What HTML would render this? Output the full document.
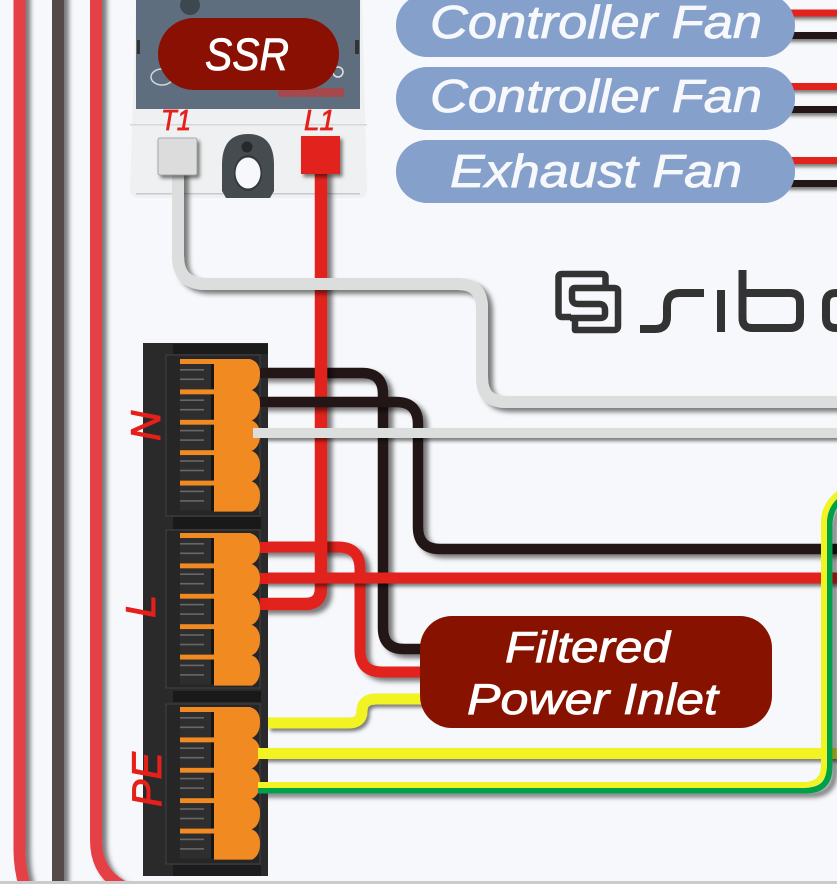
<!DOCTYPE html>
<html><head><meta charset="utf-8"><style>
html,body{margin:0;padding:0;background:#f7f8fb}
svg{display:block}
text{font-family:"Liberation Sans",sans-serif;font-style:italic}
</style></head><body>
<svg xmlns="http://www.w3.org/2000/svg" width="837" height="884" viewBox="0 0 837 884">
<defs>
<filter id="s" x="-20" y="-20" width="900" height="930" filterUnits="userSpaceOnUse"><feDropShadow dx="5" dy="4" stdDeviation="2.4" flood-color="#000" flood-opacity=".5"/></filter>
<filter id="s2" x="-20" y="-20" width="900" height="930" filterUnits="userSpaceOnUse"><feDropShadow dx="2.5" dy="3" stdDeviation="1.8" flood-color="#000" flood-opacity=".5"/></filter>
<g id="u">
<rect x="180" y="0" width="34" height="5" fill="#f28a22"/>
<rect x="180" y="5" width="32" height="25" fill="#2e2e2f"/>
<rect x="211" y="5" width="3" height="25" fill="#161616"/>
<rect x="180" y="10" width="24" height="1.6" fill="#686868"/>
<rect x="180" y="19.500" width="24" height="1.6" fill="#686868"/>
<path d="M214 0H250Q260 3 260 15Q260 27 252 31H214Z" fill="#f28a22"/>
</g>
<g id="sec">
<use href="#u"/><use href="#u" y="30.4"/><use href="#u" y="60.8"/><use href="#u" y="91.2"/><use href="#u" y="121.6"/>
</g>
</defs>
<rect width="837" height="884" fill="#f7f8fb"/>

<!-- left wires -->
<g fill="none" stroke-width="12" filter="url(#s)">
<path d="M19.500 -10V850Q19.500 870 26 890" stroke="#e63f46"/>
<path d="M58 -10V890" stroke="#54494a"/>
<path d="M96 -10V840Q96 872 122 886" stroke="#e63f46"/>
</g>

<!-- SSR device -->
<path d="M136 0H362L367 190Q367 198 358 198H140Q130 198 130 190Z" fill="#eff0f1"/>
<rect x="130" y="124" width="237" height="1.500" fill="#d5d8dc"/>
<rect x="136" y="193" width="224" height="1.500" fill="#c4cad0"/>
<rect x="136" y="0" width="224" height="109" fill="#5e6e7e"/>
<circle cx="190" cy="5" r="10" fill="#3e4650"/>
<ellipse cx="162" cy="77" rx="11" ry="8" fill="none" stroke="#cfd6dd" stroke-width="1.500"/>
<rect x="278" y="88" width="66" height="9" fill="#a5494f"/>
<rect x="137" y="40" width="3" height="14" fill="#333"/>
<rect x="355" y="40" width="4" height="14" fill="#333"/>
<circle cx="338" cy="72" r="5" fill="none" stroke="#dfe3e6" stroke-width="1.500"/>
<rect x="158" y="18" width="181" height="72" rx="36" fill="#8a1003"/>
<text x="205" y="70" font-size="45" fill="#fff" stroke="#fff" stroke-width=".8" textLength="84" lengthAdjust="spacingAndGlyphs">SSR</text>
<text x="161" y="130" font-size="29" fill="#e5201a" stroke="#e5201a" stroke-width=".7" textLength="30" lengthAdjust="spacingAndGlyphs">T1</text>
<text x="304" y="130" font-size="29" fill="#e5201a" stroke="#e5201a" stroke-width=".7" textLength="31" lengthAdjust="spacingAndGlyphs">L1</text>
<path d="M222 165Q222 134 248 134Q274 134 274 165V191L270 198H226L222 191Z" fill="#464b50"/>
<circle cx="247" cy="147" r="5.500" fill="#26282a"/>
<ellipse cx="248" cy="173" rx="14" ry="18" fill="#33373a"/>
<ellipse cx="248" cy="173" rx="12.500" ry="15.500" fill="#f7f8fb"/>

<g fill="none" stroke-linejoin="round">
<path d="M258 373H362Q383 373 383 394V628Q383 649 404 649H425" stroke="#241715" stroke-width="10.500" filter="url(#s)"/>
<path d="M258 547H338Q360 547 360 569V650Q360 672 382 672H425" stroke="#e2201a" stroke-width="11" filter="url(#s)"/>
<path d="M321 170V588Q321 604 305 604H258" stroke="#e2201a" stroke-width="12.500" filter="url(#s)"/>
<path d="M258 402H396Q418 402 418 424V527Q418 549 440 549H845" stroke="#241715" stroke-width="10.500" filter="url(#s)"/>
<path d="M178 170V256Q178 284 206 284H458Q482 284 482 308V378Q482 402 506 402H845" stroke="#dcdddd" stroke-width="12" filter="url(#s)"/>
<path d="M253 433H845" stroke="#dcdddd" stroke-width="10" filter="url(#s2)"/>
<path d="M258 578H845" stroke="#e2201a" stroke-width="11" filter="url(#s2)"/>
<path d="M268 723H348Q362 723 362 711Q362 699 376 699H425" stroke="#f1f322" stroke-width="11" filter="url(#s2)"/>
<path d="M258 753.500H845" stroke="#f1f322" stroke-width="11" filter="url(#s2)"/>
<path d="M258 790.500H806Q829.500 790.500 829.500 767V526Q829.500 506 845 495" stroke="#05a04a" stroke-width="6" filter="url(#s)"/>
<path d="M258 785H804Q824 785 824 765V522Q824 502 845 489" stroke="#f1f322" stroke-width="6"/>
</g>

<!-- T1 and L1 pads -->
<rect x="158" y="138" width="39" height="37" rx="2" fill="#dcdcdc" stroke="#999" stroke-width=".8" filter="url(#s2)"/>
<rect x="301" y="136" width="39" height="38" fill="#e2201a" filter="url(#s2)"/>

<!-- terminal block -->
<rect x="143" y="343" width="125" height="533" fill="#2a2a2b"/>
<rect x="173" y="344" width="95" height="10" fill="#1b1b1b"/>
<rect x="173" y="517" width="88" height="12" fill="#191919"/>
<rect x="173" y="691" width="88" height="11" fill="#191919"/>
<rect x="173" y="865" width="88" height="11" fill="#1c1c1c"/>
<rect x="166" y="355" width="94" height="161" fill="#262627" stroke="#434344" stroke-width="1"/>
<rect x="166" y="530" width="94" height="158" fill="#262627" stroke="#434344" stroke-width="1"/>
<rect x="166" y="704" width="94" height="160" fill="#262627" stroke="#434344" stroke-width="1"/>
<use href="#sec" y="359"/>
<use href="#sec" y="533"/>
<use href="#sec" y="707"/>
<!-- wire stubs over block -->
<rect x="253" y="428" width="15" height="10" fill="#dcdddd"/>
<rect x="258" y="748" width="10" height="11" fill="#f1f322"/>
<rect x="258" y="782" width="10" height="6" fill="#f1f322"/>
<rect x="258" y="788" width="10" height="5.500" fill="#05a04a"/>
<rect x="260" y="368" width="8" height="10" fill="#241715"/>
<rect x="260" y="397" width="8" height="10" fill="#241715"/>
<rect x="260" y="542" width="8" height="11" fill="#e2201a"/>
<rect x="260" y="573" width="8" height="11" fill="#e2201a"/>
<rect x="260" y="598" width="8" height="12" fill="#e2201a"/>

<g fill="#e5201a" stroke="#e5201a" stroke-width=".9" font-size="42">
<text transform="translate(160 441) rotate(-90)">N</text>
<text transform="translate(155 618) rotate(-90)">L</text>
<text transform="translate(161 807) rotate(-90)" textLength="55" lengthAdjust="spacingAndGlyphs">PE</text>
</g>

<!-- Filtered Power Inlet -->
<rect x="420" y="616" width="352" height="112" rx="32" fill="#871200"/>
<g fill="#fff" stroke="#fff" stroke-width=".8" font-size="44">
<text x="505" y="662" textLength="165" lengthAdjust="spacingAndGlyphs">Filtered</text>
<text x="467" y="714" textLength="251" lengthAdjust="spacingAndGlyphs">Power Inlet</text>
</g>

<!-- Fan wires -->
<g filter="url(#s2)">
<rect x="785" y="9.500" width="60" height="7" fill="#e2201a"/>
<rect x="785" y="32" width="60" height="7" fill="#241715"/>
<rect x="785" y="83" width="60" height="7" fill="#e2201a"/>
<rect x="785" y="106" width="60" height="7" fill="#241715"/>
<rect x="785" y="157" width="60" height="7" fill="#e2201a"/>
<rect x="785" y="180" width="60" height="7" fill="#241715"/>
</g>
<!-- Fan pills -->
<rect x="396" y="-6" width="399" height="63" rx="31" fill="#85a0ca"/>
<rect x="396" y="67" width="399" height="63" rx="31" fill="#85a0ca"/>
<rect x="396" y="140" width="399" height="63" rx="31" fill="#85a0ca"/>
<g fill="#f7f8fb" stroke="#f7f8fb" stroke-width=".8" font-size="46">
<text x="430" y="38" textLength="332" lengthAdjust="spacingAndGlyphs">Controller Fan</text>
<text x="430" y="112" textLength="332" lengthAdjust="spacingAndGlyphs">Controller Fan</text>
<text x="450" y="187" textLength="292" lengthAdjust="spacingAndGlyphs">Exhaust Fan</text>
</g>

<!-- Logo -->
<g fill="none" stroke="#333" stroke-width="6.500" stroke-linejoin="round">
<path d="M571 317H562Q558.500 317 558.500 313V277Q558.500 274 562 274H602Q605.500 274 605.500 277V288"/>
<path d="M575 318V330H614Q618 330 618 326V291Q618 288 614 288H575Q572 288 572 291V298Q572 304 578 304H599Q605 304 605 310V314Q605 318 600 318H570"/>
</g>
<g fill="none" stroke="#333" stroke-width="8">
<path d="M640 329H655Q667 329 667 317V306Q667 293 680 293H704"/>
<path d="M721 290V332"/>
<path d="M742.500 270V318Q742.500 328 752 328H790Q800 328 800 318V303Q800 293 790 293H742.500"/>
<path d="M845 293H836Q826 293 826 303V318Q826 328 836 328H845"/>
</g>

<rect x="0" y="881" width="837" height="3" fill="#cbcbcb"/>
</svg>
</body></html>
